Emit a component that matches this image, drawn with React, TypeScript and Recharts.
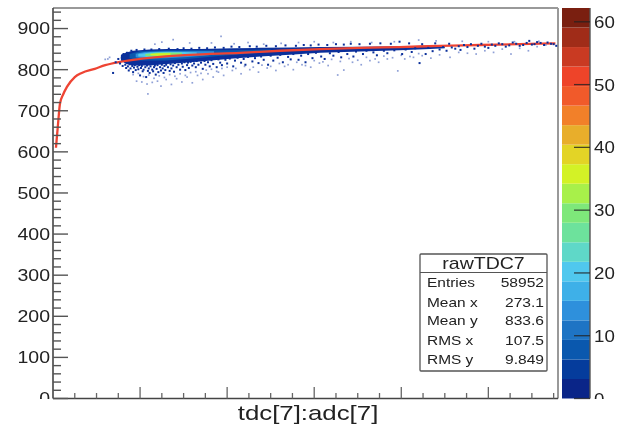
import { Area, Bar, BarChart, ComposedChart, Line, ReferenceLine, Scatter, XAxis, YAxis } from "recharts";

const xTicks = [0, 25, 50, 75, 100, 125, 150, 175, 200, 225, 250, 275, 300, 325, 350, 375, 400, 425, 450, 475, 500, 525, 550, 575];
const yTicks = [0, 20, 40, 60, 80, 100, 120, 140, 160, 180, 200, 220, 240, 260, 280, 300, 320, 340, 360, 380, 400, 420, 440, 460, 480, 500, 520, 540, 560, 580, 600, 620, 640, 660, 680, 700, 720, 740, 760, 780, 800, 820, 840, 860, 880, 900, 920, 940];
const zTicks = [0, 10, 20, 30, 40, 50, 60];

// profile fit
const fitX = [3.4, 5.7, 8, 11.5, 16, 25, 33, 48, 60, 77, 100, 123, 157, 215, 261, 307, 353, 398, 444, 490, 536, 577];
const fitY = [610, 666, 717, 739, 758, 782, 792, 802, 811, 819, 826, 831, 836, 841, 846, 850, 853, 855, 858, 860, 862, 864];

// density bands: x, low edge, high edge
const band1: number[][] = [[78, 822, 836], [84, 814, 842], [92, 810, 846], [111, 810, 849], [131, 814, 850], [169, 820, 850], [207, 827, 852], [238, 832, 853], [272, 836, 854], [307, 841, 855], [353, 844, 856], [398, 847, 857], [433, 850, 858], [450, 852, 858]];
const band2: number[][] = [[88, 828, 838], [100, 822, 845], [130, 822, 847], [160, 827, 847], [190, 833, 847], [225, 839, 848], [250, 843, 849]];
const band3: number[][] = [[95, 830, 839], [105, 827, 843], [130, 828, 845], [155, 831, 845], [185, 836, 845]];
const band4: number[][] = [[98, 832, 838], [112, 830, 842], [130, 831, 843], [150, 834, 843], [165, 837, 842]];
const band5: number[][] = [[106, 833, 838], [118, 832, 841], [135, 833, 842], [148, 836, 841]];
const band6: number[][] = [[112, 835, 838], [122, 834, 840], [135, 835, 840]];

const darkDots: number[][] = [
  [69, 792], [72, 818], [75, 826], [77, 815], [79, 829], [80, 809], [81, 838], [83, 812], [84, 804], [85, 841], [86, 808], [87, 798], [88, 813], [89, 803], [90, 846], [91, 809], [92, 794], [93, 805], [94, 811], [95, 799], [96, 848], [97, 807], [98, 801], [99, 811], [100, 786], [101, 804], [102, 809], [103, 796], [104, 800], [105, 849], [106, 806], [107, 782], [108, 810], [109, 797], [110, 803], [111, 792], [112, 808], [113, 849], [114, 800], [115, 796], [116, 806], [117, 810], [118, 788], [119, 802], [120, 811], [121, 794], [122, 850], [123, 806], [124, 798], [125, 812], [126, 803], [127, 792], [128, 809], [129, 799], [130, 812], [132, 806], [133, 851], [134, 797], [135, 813], [136, 803], [138, 810], [139, 795], [140, 816], [142, 806], [143, 850], [144, 812], [146, 800], [148, 815], [149, 807], [150, 852], [151, 818], [152, 799], [154, 811], [155, 817], [156, 804], [158, 819], [159, 851], [160, 810], [162, 815], [164, 806], [165, 821], [167, 812], [168, 853], [170, 817], [172, 802], [174, 821], [175, 812], [177, 852], [178, 818], [180, 808], [182, 823], [184, 814], [186, 854], [188, 806], [190, 825], [192, 817], [194, 811], [196, 853], [198, 824], [200, 815], [203, 827], [205, 856], [207, 808], [209, 822], [212, 829], [214, 855], [216, 817], [219, 826], [221, 812], [224, 831], [226, 857], [229, 820], [232, 828], [234, 856], [236, 816], [239, 832], [242, 824], [245, 858], [247, 812], [250, 834], [253, 822], [256, 857], [258, 829], [261, 836], [264, 818], [267, 859], [270, 831], [273, 825], [276, 838], [279, 858], [282, 824], [285, 834], [288, 860], [290, 818], [293, 838], [296, 859], [298, 828], [302, 841], [305, 861], [308, 832], [312, 826], [315, 860], [318, 840], [322, 834], [325, 862], [328, 843], [331, 830], [334, 861], [338, 838], [342, 863], [345, 832], [348, 844], [352, 862], [356, 838], [360, 846], [364, 863], [368, 842], [372, 835], [376, 864], [380, 846], [384, 840], [388, 863], [392, 847], [398, 868], [401, 838], [405, 849], [409, 864], [412, 843], [416, 852], [421, 816], [424, 862], [428, 838], [431, 853], [436, 845], [439, 864], [444, 849], [448, 855], [452, 846], [455, 863], [458, 854], [462, 851], [466, 857], [468, 848], [472, 860], [476, 855], [480, 862], [484, 851], [488, 858], [492, 863], [496, 856], [500, 853], [504, 861], [508, 858], [512, 864], [516, 862], [520, 856], [524, 859], [528, 866], [532, 863], [536, 858], [540, 860], [544, 865], [547, 870], [550, 861], [553, 862], [556, 867], [560, 865], [564, 860], [568, 866], [572, 863], [575, 862], [578, 858]
];
const paleDots: number[][] = [
  [60, 825], [63, 826], [65, 830], [109, 741], [117, 862], [125, 867], [138, 873], [157, 865], [182, 865], [193, 881], [96, 772], [102, 770], [108, 765], [114, 769], [120, 772], [124, 760], [130, 776], [136, 764], [142, 778], [148, 770], [154, 782], [160, 768], [166, 786], [172, 776], [178, 790], [184, 782], [190, 794], [196, 786], [206, 798], [216, 790], [226, 800], [236, 794], [246, 804], [256, 798], [266, 808], [276, 800], [286, 812], [296, 806], [306, 816], [316, 810], [327, 787], [334, 799], [344, 818], [354, 812], [364, 822], [374, 818], [384, 826], [396, 797], [404, 826], [414, 830], [424, 834], [434, 828], [444, 836], [456, 830], [466, 842], [476, 840], [486, 838], [496, 846], [506, 842], [516, 850], [526, 838], [536, 852], [546, 846], [556, 856], [566, 860], [208, 863], [224, 866], [242, 862], [262, 864], [282, 866], [300, 868], [322, 866], [342, 868], [366, 866], [392, 868], [420, 872], [440, 870], [470, 869], [500, 868], [530, 868], [558, 869],
  [92, 788], [98, 791], [104, 783], [110, 787], [116, 779], [122, 785], [128, 781], [134, 788], [140, 784], [146, 790], [152, 786], [158, 793], [164, 795], [170, 791], [176, 799], [182, 801], [188, 796], [194, 803], [200, 806], [210, 803], [220, 808], [230, 806], [240, 811], [250, 808], [260, 815], [270, 812], [280, 818], [290, 810], [300, 822], [310, 819], [320, 825], [330, 820], [340, 827], [350, 823], [360, 830], [370, 826], [380, 833], [390, 829], [400, 835], [410, 832], [420, 839]
];

// colour bar steps, bottom to top
const zStep = 3.11;
const zColors = ["#0a2588", "#053c9c", "#0a58ae", "#1e74c4", "#2e90dc", "#3eb0e8", "#50c8ee", "#5fd8c8", "#6de29c", "#7ee87a", "#a8f04a", "#d3f226", "#e3d426", "#e8ae2b", "#f28029", "#f15a2a", "#ee4429", "#c93a22", "#a02c18", "#7a1f10"];

const statNames = ["Entries", "Mean x", "Mean y", "RMS x", "RMS y"];
const statValues = ["58952", "273.1", "833.6", "107.5", "9.849"];

const FONT = '"Liberation Sans", Arial, sans-serif';
const INK = "#222";
const AXIS = "#444";

const toPoints = (rows: number[][]) => rows.map(([x, y]) => ({ x, y }));
const toBand = (rows: number[][]) => rows.map(([x, lo, hi]) => ({ x, range: [lo, hi] }));
const fitData = fitX.map((x, i) => ({ x, y: fitY[i] }));
const zRow = [Object.fromEntries(zColors.map((_, i) => [`z${i}`, zStep]))];

function Wide(props: { x: number; y: number; size: number; sx: number; anchor?: string; fill?: string; children: string; clip?: boolean }) {
  const { x, y, size, sx, anchor = "start", fill = INK, children, clip } = props;
  const text = (
    <text
      transform={`translate(${x},${y}) scale(${sx},1)`}
      fontSize={size}
      fontFamily={FONT}
      fill={fill}
      textAnchor={anchor}
      dominantBaseline="central"
    >
      {children}
    </text>
  );
  return clip ? <g clipPath="url(#cutBottom)">{text}</g> : text;
}

function YTick(props: any) {
  const { x, y, payload } = props;
  const major = payload.value % 100 === 0;
  return (
    <g>
      <line x1={x} x2={x + (major ? 15 : 8)} y1={y} y2={y} stroke="#555" strokeWidth={1.4} />
      {major && (
        <Wide x={x - 3} y={y + 0.5} size={16} sx={1.22} anchor="end" clip={payload.value === 0}>
          {String(payload.value)}
        </Wide>
      )}
    </g>
  );
}

function XTick(props: any) {
  const { x, payload } = props;
  const major = payload.value % 100 === 0;
  if (payload.value === 0) return <g />;
  return <line x1={x} x2={x} y1={398.5} y2={major ? 387 : 393} stroke="#666" strokeWidth={1.3} />;
}

function ZTick(props: any) {
  const { x, y, payload } = props;
  return (
    <g>
      <line x1={x} x2={x - 16} y1={y} y2={y} stroke="#222" strokeOpacity={0.8} strokeWidth={1.3} />
      <Wide x={x + 4} y={y + 0.5} size={16} sx={1.17} clip={payload.value === 0}>
        {String(payload.value)}
      </Wide>
    </g>
  );
}

const square = (fill: string, opacity: number, side: number) => (p: any) => (
  <rect x={p.cx - side / 2} y={p.cy - side / 2} width={side} height={side} fill={fill} fillOpacity={opacity} />
);

function StatsBox() {
  const rowY = [282.7, 302, 320, 340, 359];
  return (
    <svg width={623} height={425} style={{ position: "absolute", left: 0, top: 0 }}>
      <rect x={420} y={254} width={127} height={117} rx={1} fill="#fff" stroke="#555" strokeWidth={1.3} />
      <line x1={420} x2={547} y1={272.5} y2={272.5} stroke="#555" strokeWidth={1.2} />
      <Wide x={483.5} y={264} size={16} sx={1.22} anchor="middle">rawTDC7</Wide>
      {statNames.map((name, i) => (
        <Wide key={name} x={427} y={rowY[i]} size={13} sx={1.19}>{name}</Wide>
      ))}
      {statValues.map((val, i) => (
        <Wide key={statNames[i]} x={544} y={rowY[i]} size={13} sx={1.2} anchor="end">{val}</Wide>
      ))}
    </svg>
  );
}

export default function App() {
  return (
    <div style={{ position: "absolute", left: 0, top: 0, width: 623, height: 425, background: "#fff", overflow: "hidden", filter: "blur(0.45px)" }}>
      <svg width={0} height={0} style={{ position: "absolute" }}>
        <defs>
          <clipPath id="cutBottom" clipPathUnits="userSpaceOnUse">
            <rect x={0} y={0} width={623} height={399} />
          </clipPath>
        </defs>
      </svg>

      <div style={{ position: "absolute", left: 0, top: 0 }}>
        <ComposedChart width={623} height={425} margin={{ top: 8, right: 65, bottom: 0, left: 0 }}>
          <XAxis
            dataKey="x"
            type="number"
            domain={[0, 580]}
            ticks={xTicks}
            interval={0}
            height={26.5}
            tick={XTick}
            tickLine={false}
            tickSize={0}
            axisLine={{ stroke: AXIS, strokeWidth: 1.6 }}
            allowDuplicatedCategory={false}
          />
          <YAxis
            dataKey="y"
            type="number"
            domain={[0, 950]}
            ticks={yTicks}
            interval={0}
            width={53}
            tick={YTick}
            tickLine={false}
            tickSize={0}
            tickMargin={0}
            axisLine={{ stroke: AXIS, strokeWidth: 1.6 }}
          />
          <ReferenceLine y={950} stroke="#777" strokeWidth={1.6} />
          <ReferenceLine x={580} stroke="#999" strokeWidth={2} />
          <Scatter data={toPoints(paleDots)} dataKey="y" shape={square("#6a80c8", 0.75, 1.7)} isAnimationActive={false} />
          <Scatter data={toPoints(darkDots)} dataKey="y" shape={square("#0a2f9a", 1, 2)} isAnimationActive={false} />
          <Area data={toBand(band1)} dataKey="range" fill="#0a2f9a" fillOpacity={1} stroke="none" dot={false} activeDot={false} isAnimationActive={false} />
          <Area data={toBand(band2)} dataKey="range" fill="#0a58ae" fillOpacity={1} stroke="none" dot={false} activeDot={false} isAnimationActive={false} />
          <Area data={toBand(band3)} dataKey="range" fill="#2e90dc" fillOpacity={1} stroke="none" dot={false} activeDot={false} isAnimationActive={false} />
          <Area data={toBand(band4)} dataKey="range" fill="#50c8ee" fillOpacity={1} stroke="none" dot={false} activeDot={false} isAnimationActive={false} />
          <Area data={toBand(band5)} dataKey="range" fill="#7ee87a" fillOpacity={1} stroke="none" dot={false} activeDot={false} isAnimationActive={false} />
          <Area data={toBand(band6)} dataKey="range" fill="#d3f226" fillOpacity={1} stroke="none" dot={false} activeDot={false} isAnimationActive={false} />
          <Line data={fitData} dataKey="y" type="monotone" stroke="#ee4433" strokeWidth={2.3} dot={false} activeDot={false} isAnimationActive={false} />
        </ComposedChart>
      </div>

      <div style={{ position: "absolute", left: 562, top: 0 }}>
        <BarChart width={61} height={425} data={zRow} barCategoryGap={0} margin={{ top: 8, right: 0, bottom: 26.5, left: 0 }}>
          <XAxis hide />
          {zColors.map((color, i) => (
            <Bar key={color} dataKey={`z${i}`} stackId="z" fill={color} isAnimationActive={false} />
          ))}
          <YAxis
            orientation="right"
            type="number"
            domain={[0, 62.2]}
            ticks={zTicks}
            interval={0}
            width={33}
            tick={ZTick}
            tickLine={false}
            tickSize={0}
            tickMargin={0}
            axisLine={{ stroke: "#555", strokeWidth: 1.4 }}
          />
        </BarChart>
      </div>

      <StatsBox />

      <svg width={623} height={425} style={{ position: "absolute", left: 0, top: 0, pointerEvents: "none" }}>
        <Wide x={308} y={413} size={20.5} sx={1.26} anchor="middle">tdc[7]:adc[7]</Wide>
      </svg>
    </div>
  );
}
